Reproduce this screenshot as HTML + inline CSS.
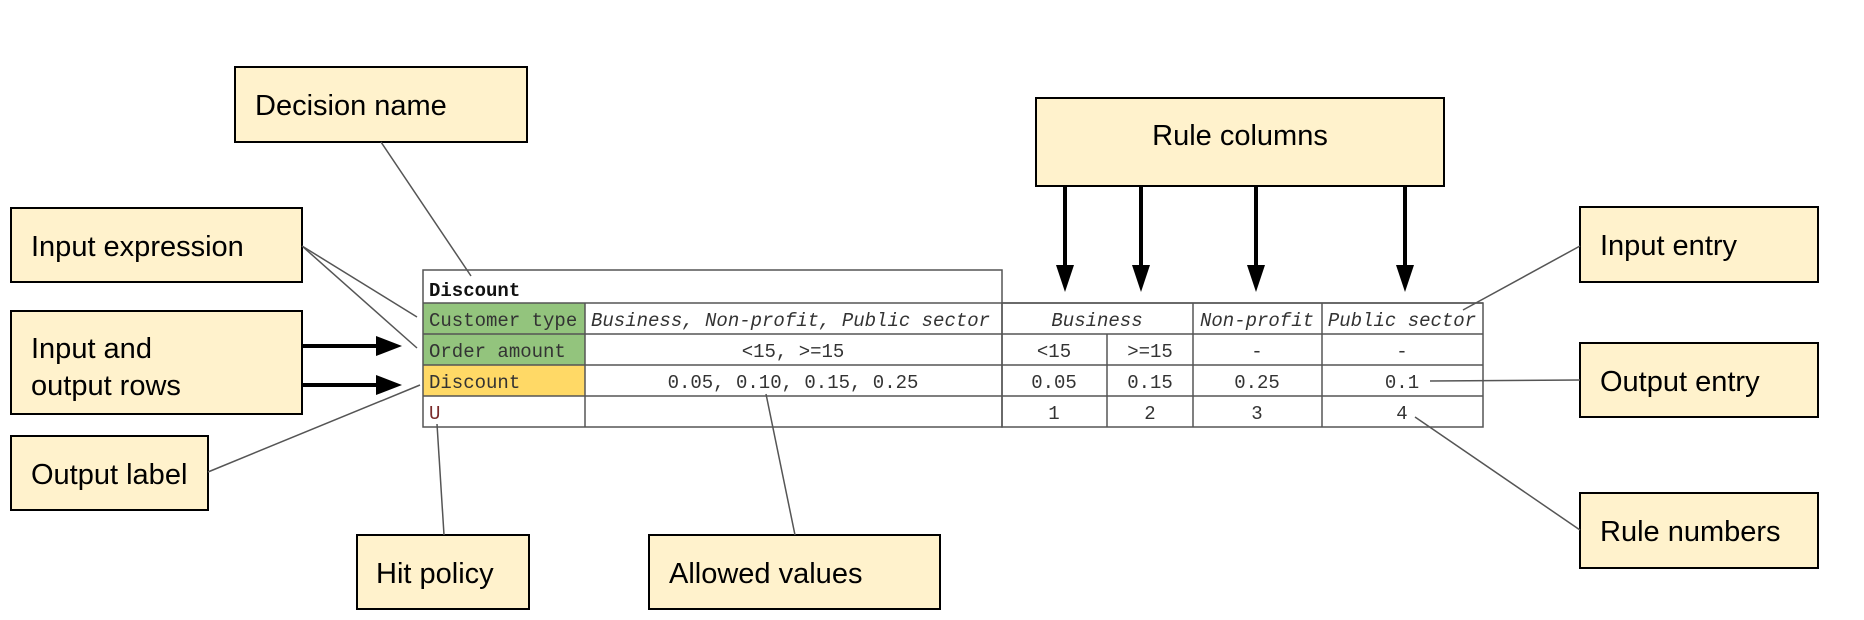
<!DOCTYPE html>
<html><head><meta charset="utf-8"><style>
html,body{margin:0;padding:0;background:#fff;width:1864px;height:620px;overflow:hidden}
svg text.b{font-family:"Liberation Sans",Arial,sans-serif;font-size:29px;fill:#000}
svg text.m{font-family:"Liberation Mono","Courier New",monospace;font-size:19px;fill:#333}
</style></head><body>
<svg width="1864" height="620" xmlns="http://www.w3.org/2000/svg">
<!-- boxes -->
<g fill="#fff2cc" stroke="#000" stroke-width="2">
<rect x="235" y="67" width="292" height="75"/>
<rect x="11" y="208" width="291" height="74"/>
<rect x="11" y="311" width="291" height="103"/>
<rect x="11" y="436" width="197" height="74"/>
<rect x="357" y="535" width="172" height="74"/>
<rect x="649" y="535" width="291" height="74"/>
<rect x="1036" y="98" width="408" height="88"/>
<rect x="1580" y="207" width="238" height="75"/>
<rect x="1580" y="343" width="238" height="74"/>
<rect x="1580" y="493" width="238" height="75"/>
</g>
<text class="b" x="255" y="115">Decision name</text>
<text class="b" x="31" y="256">Input expression</text>
<text class="b" x="31" y="358">Input and</text>
<text class="b" x="31" y="395">output rows</text>
<text class="b" x="31" y="484">Output label</text>
<text class="b" x="376" y="583">Hit policy</text>
<text class="b" x="669" y="583">Allowed values</text>
<text class="b" x="1240" y="145" text-anchor="middle">Rule columns</text>
<text class="b" x="1600" y="255">Input entry</text>
<text class="b" x="1600" y="391">Output entry</text>
<text class="b" x="1600" y="541">Rule numbers</text>

<!-- table fills -->
<rect x="423" y="303" width="162" height="62" fill="#93c47d"/>
<rect x="423" y="365" width="162" height="31" fill="#ffd966"/>
<g stroke="#555" stroke-width="1.5" fill="none">
<rect x="423" y="270" width="579" height="157"/>
<rect x="1002" y="303" width="481" height="124"/>
<line x1="423" y1="303" x2="1483" y2="303"/>
<line x1="423" y1="334" x2="1483" y2="334"/>
<line x1="423" y1="365" x2="1483" y2="365"/>
<line x1="423" y1="396" x2="1483" y2="396"/>
<line x1="585" y1="303" x2="585" y2="427"/>
<line x1="1107" y1="334" x2="1107" y2="427"/>
<line x1="1193" y1="303" x2="1193" y2="427"/>
<line x1="1322" y1="303" x2="1322" y2="427"/>
</g>
<text class="m" x="429" y="296" style="font-weight:bold;fill:#111">Discount</text>
<text class="m" x="429" y="326">Customer type</text>
<text class="m" x="429" y="357">Order amount</text>
<text class="m" x="429" y="388">Discount</text>
<text class="m" x="429" y="419" style="fill:#7a2a2a">U</text>
<text class="m" x="591" y="326" style="font-style:italic">Business, Non-profit, Public sector</text>
<text class="m" x="793" y="357" text-anchor="middle">&lt;15, &gt;=15</text>
<text class="m" x="793" y="388" text-anchor="middle">0.05, 0.10, 0.15, 0.25</text>
<text class="m" x="1097" y="326" text-anchor="middle" style="font-style:italic">Business</text>
<text class="m" x="1257" y="326" text-anchor="middle" style="font-style:italic">Non-profit</text>
<text class="m" x="1402" y="326" text-anchor="middle" style="font-style:italic">Public sector</text>
<text class="m" x="1054" y="357" text-anchor="middle">&lt;15</text>
<text class="m" x="1150" y="357" text-anchor="middle">&gt;=15</text>
<text class="m" x="1257" y="357" text-anchor="middle">-</text>
<text class="m" x="1402" y="357" text-anchor="middle">-</text>
<text class="m" x="1054" y="388" text-anchor="middle">0.05</text>
<text class="m" x="1150" y="388" text-anchor="middle">0.15</text>
<text class="m" x="1257" y="388" text-anchor="middle">0.25</text>
<text class="m" x="1402" y="388" text-anchor="middle">0.1</text>
<text class="m" x="1054" y="419" text-anchor="middle">1</text>
<text class="m" x="1150" y="419" text-anchor="middle">2</text>
<text class="m" x="1257" y="419" text-anchor="middle">3</text>
<text class="m" x="1402" y="419" text-anchor="middle">4</text>

<!-- thin connectors -->
<g stroke="#555" stroke-width="1.5" fill="none">
<line x1="381" y1="142" x2="471" y2="276"/>
<line x1="302" y1="246" x2="417" y2="317"/>
<line x1="302" y1="246" x2="417" y2="348"/>
<line x1="208" y1="472" x2="420" y2="385"/>
<line x1="437" y1="424" x2="444" y2="535"/>
<line x1="766" y1="394" x2="795" y2="535"/>
<line x1="1580" y1="246" x2="1463" y2="310"/>
<line x1="1580" y1="380" x2="1430" y2="381"/>
<line x1="1580" y1="530" x2="1415" y2="417"/>
</g>
<!-- thick arrows -->
<g stroke="#000" stroke-width="4">
<line x1="302" y1="346" x2="380" y2="346"/>
<line x1="302" y1="385" x2="380" y2="385"/>
<line x1="1065" y1="186" x2="1065" y2="268"/>
<line x1="1141" y1="186" x2="1141" y2="268"/>
<line x1="1256" y1="186" x2="1256" y2="268"/>
<line x1="1405" y1="186" x2="1405" y2="268"/>
</g>
<g fill="#000">
<polygon points="376,336 402,346 376,356"/>
<polygon points="376,375 402,385 376,395"/>
<polygon points="1056,265 1074,265 1065,292"/>
<polygon points="1132,265 1150,265 1141,292"/>
<polygon points="1247,265 1265,265 1256,292"/>
<polygon points="1396,265 1414,265 1405,292"/>
</g>
</svg>
</body></html>
